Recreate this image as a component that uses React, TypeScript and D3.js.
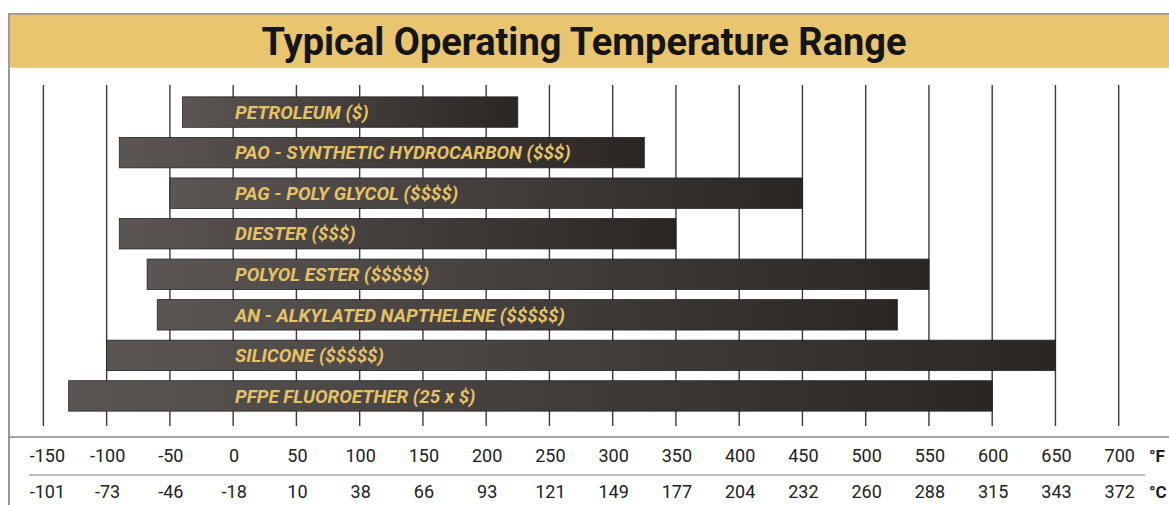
import React from 'react';
import * as d3 from 'd3';

const fahrenheitTicks = [-150, -100, -50, 0, 50, 100, 150, 200, 250, 300, 350, 400, 450, 500, 550, 600, 650, 700];
const celsiusLabels = ['-101', '-73', '-46', '-18', '10', '38', '66', '93', '121', '149', '177', '204', '232', '260', '288', '315', '343', '372'];

const fluids = [
  'PETROLEUM ($)',
  'PAO - SYNTHETIC HYDROCARBON ($$$)',
  'PAG - POLY GLYCOL ($$$$)',
  'DIESTER ($$$)',
  'POLYOL ESTER ($$$$$)',
  'AN - ALKYLATED NAPTHELENE ($$$$$)',
  'SILICONE ($$$$$)',
  'PFPE FLUOROETHER (25 x $)',
];
const minTempF = [-40, -90, -50, -90, -68, -60, -100, -130];
const maxTempF = [225, 325, 450, 350, 550, 525, 650, 600];

const W = 1169;
const H = 505;

const App = () => {
  const x = d3.scaleLinear().domain([-150, 700]).range([43.4, 1118.7]);
  const y = d3.scaleBand<string>().domain(fluids).range([92, 416]).paddingInner(0.25).paddingOuter(0.12);

  const gridTop = 85;
  const gridBottom = 426;

  return (
    <svg width={W} height={H} style={{ position: 'absolute', left: 0, top: 0, background: '#fff' }}
      fontFamily="Roboto, 'Noto Sans', sans-serif">
      <defs>
        <linearGradient id="barGrad" x1="0" x2="1" y1="0" y2="0">
          <stop offset="0%" stopColor="#5b5653" />
          <stop offset="100%" stopColor="#2a2624" />
        </linearGradient>
      </defs>

      {/* frame + title band */}
      <rect x={9} y={14} width={W} height={H} fill="none" stroke="#777" strokeWidth={1.5} />
      <rect x={9.75} y={14.75} width={W} height={53} fill="#e8c56e" />
      <text x={584} y={55} textAnchor="middle" fontSize={38} fontWeight={700} fill="#151515">
        Typical Operating Temperature Range
      </text>

      {/* vertical grid */}
      {fahrenheitTicks.map(t => (
        <line key={t} x1={x(t)} x2={x(t)} y1={gridTop} y2={gridBottom} stroke="#3a3a3a" strokeWidth={1.4} />
      ))}

      {/* bars */}
      {fluids.map((f, i) => (
        <g key={f}>
          <rect x={x(minTempF[i])} y={y(f)} width={x(maxTempF[i]) - x(minTempF[i])} height={y.bandwidth()}
            fill="url(#barGrad)" stroke="#222" strokeWidth={0.8} />
          <text x={235} y={(y(f) ?? 0) + y.bandwidth() / 2} dy="0.36em" fontSize={18.8} fontStyle="italic"
            fontWeight={700} fill="#e6c266">
            {f}
          </text>
        </g>
      ))}

      {/* axis area */}
      <line x1={9} x2={W} y1={437} y2={437} stroke="#888" strokeWidth={1.5} />
      <line x1={29} x2={1145} y1={475} y2={475} stroke="#aaa" strokeWidth={1.5} />
      {fahrenheitTicks.map((t, i) => (
        <g key={t}>
          <text x={x(t) + (i === 0 ? 4 : 1)} y={462} textAnchor="middle" fontSize={18} fill="#222">{t}</text>
          <text x={x(t) + (i === 0 ? 4 : 1)} y={498} textAnchor="middle" fontSize={18} fill="#222">{celsiusLabels[i]}</text>
        </g>
      ))}
      <text x={1149} y={462} fontSize={17} fontWeight={700} fill="#222">°F</text>
      <text x={1149} y={498} fontSize={17} fontWeight={700} fill="#222">°C</text>
    </svg>
  );
};

export default App;
